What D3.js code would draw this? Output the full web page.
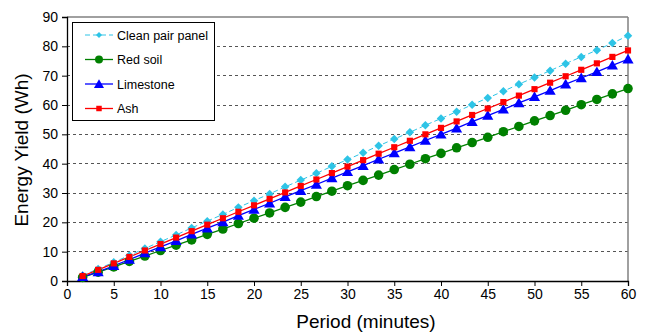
<!DOCTYPE html>
<html>
<head>
<meta charset="utf-8">
<script src="https://cdn.jsdelivr.net/npm/d3@7"></script>
<style>
  html, body { margin: 0; padding: 0; background: #fff; }
  svg { display: block; }
  text { font-family: "Liberation Sans", Arial, sans-serif; }
</style>
</head>
<body>
<svg id="chart" width="646" height="334"></svg>
<script>
const periods = [1.67,3.33,5,6.67,8.33,10,11.67,13.33,15,16.67,18.33,20,21.67,23.33,25,26.67,28.33,30,31.67,33.33,35,36.67,38.33,40,41.67,43.33,45,46.67,48.33,50,51.67,53.33,55,56.67,58.33,60];
const cleanPanel = [1.9,4.1,6.4,8.7,11.1,13.4,15.7,18.1,20.4,22.7,25.1,27.4,29.7,32.1,34.4,36.7,39.1,41.4,43.7,46.1,48.4,50.7,53.1,55.4,57.7,60.1,62.4,64.7,67.1,69.4,71.7,74.1,76.4,78.7,81.1,83.6];
const redSoil = [1.2,3.0,4.8,6.7,8.5,10.4,12.2,14.0,15.9,17.7,19.6,21.4,23.2,25.1,26.9,28.8,30.6,32.5,34.3,36.1,38.0,39.8,41.7,43.5,45.4,47.2,49.0,50.9,52.7,54.6,56.4,58.2,60.1,61.9,63.8,65.6];
const limestone = [1.4,3.1,5.2,7.3,9.5,11.6,13.7,15.9,18.0,20.1,22.3,24.4,26.5,28.7,30.8,32.9,35.1,37.2,39.3,41.5,43.6,45.7,47.9,50.0,52.1,54.3,56.4,58.5,60.7,62.8,64.9,67.1,69.2,71.3,73.5,75.6];
const ash = [1.7,3.8,6.0,8.2,10.4,12.6,14.8,17.0,19.2,21.4,23.6,25.8,28.0,30.2,32.4,34.6,36.8,39.0,41.2,43.4,45.6,47.8,50.0,52.2,54.4,56.6,58.8,61.0,63.2,65.4,67.6,69.8,72.0,74.2,76.4,78.6];
const xTicks = [0,5,10,15,20,25,30,35,40,45,50,55,60];
const yTicks = [0,10,20,30,40,50,60,70,80,90];
const seriesNames = ["Clean pair panel","Red soil","Limestone","Ash"];

const FONT = "'Liberation Sans', Arial, sans-serif";
const diamond = { draw(ctx, size) { const r = Math.sqrt(size) / 2; ctx.moveTo(0,-r); ctx.lineTo(r,0); ctx.lineTo(0,r); ctx.lineTo(-r,0); ctx.closePath(); } };

const series = [
  {name: seriesNames[0], values: cleanPanel, color: "#2ec4e6", dash: "5,3", symbol: diamond, size: 72, lsize: 36, lw: 1},
  {name: seriesNames[1], values: redSoil, color: "#008000", dash: null, symbol: d3.symbolCircle, size: 72, lsize: 50, lw: 1.3},
  {name: seriesNames[2], values: limestone, color: "#0000ff", dash: null, symbol: d3.symbolTriangle, size: 54, lsize: 44, lw: 1.3},
  {name: seriesNames[3], values: ash, color: "#ff0000", dash: null, symbol: d3.symbolSquare, size: 38, lsize: 30, lw: 1.3}
];

const svg = d3.select("#chart");
const L = 67, R = 628, T = 17, B = 281;
const x = d3.scaleLinear().domain([0,60]).range([L,R]);
const y = d3.scaleLinear().domain([0,90]).range([B,T]);

// gridlines
svg.append("g").selectAll("line").data(yTicks.filter(v => v > 0 && v < 90)).join("line")
  .attr("x1", L).attr("x2", R).attr("y1", d => y(d)).attr("y2", d => y(d))
  .attr("stroke", "#555").attr("stroke-width", 1).attr("stroke-dasharray", "3,3")
  .attr("shape-rendering", "crispEdges");

// frame top & right
svg.append("line").attr("x1", L).attr("x2", R).attr("y1", T).attr("y2", T)
  .attr("stroke", "#808080").attr("stroke-width", 1.5);
svg.append("line").attr("x1", R).attr("x2", R).attr("y1", T).attr("y2", B)
  .attr("stroke", "#808080").attr("stroke-width", 1.5);

// axes
const xAxis = svg.append("g").attr("transform", `translate(0,${B})`)
  .call(d3.axisBottom(x).tickValues(xTicks).tickSize(5).tickPadding(3).tickFormat(d3.format("d")));
const yAxis = svg.append("g").attr("transform", `translate(${L},0)`)
  .call(d3.axisLeft(y).tickValues(yTicks).tickSize(5).tickPadding(4).tickFormat(d3.format("d")));
[xAxis, yAxis].forEach(g => {
  g.attr("font-family", FONT).attr("font-size", 14);
  g.select(".domain").attr("stroke", "#000").attr("stroke-width", 1.3);
  g.selectAll(".tick line").attr("stroke", "#000");
  g.selectAll(".tick text").attr("font-size", 14).attr("fill", "#000").attr("font-family", FONT);
});

// lines and markers
const line = d3.line().x((d, i) => x(periods[i])).y(d => y(d));
series.forEach(s => {
  svg.append("path").datum(s.values)
    .attr("fill", "none").attr("stroke", s.color).attr("stroke-width", s.lw)
    .attr("stroke-dasharray", s.dash).attr("d", line);
});
series.forEach(s => {
  const sym = d3.symbol().type(s.symbol).size(s.size);
  svg.append("g").selectAll("path").data(s.values).join("path")
    .attr("transform", (d, i) => `translate(${x(periods[i])},${y(d) + (s.symbol === d3.symbolTriangle ? 1 : 0)})`)
    .attr("d", sym).attr("fill", s.color);
});

// axis titles
svg.append("text").attr("x", 366).attr("y", 328).attr("text-anchor", "middle")
  .attr("font-family", FONT).attr("font-size", 19).text("Period (minutes)");
svg.append("text").attr("transform", `translate(28,150) rotate(-90)`)
  .attr("text-anchor", "middle").attr("font-family", FONT).attr("font-size", 19).text("Energy Yield (Wh)");

// legend
const lg = svg.append("g");
lg.append("rect").attr("x", 72.5).attr("y", 22.5).attr("width", 142).attr("height", 98)
  .attr("fill", "#fff").attr("stroke", "#000").attr("stroke-width", 1);
series.forEach((s, i) => {
  const cy = 35 + i * 24.5;
  lg.append("line").attr("x1", 85).attr("x2", 113).attr("y1", cy).attr("y2", cy)
    .attr("stroke", s.color).attr("stroke-width", s.lw).attr("stroke-dasharray", s.dash);
  lg.append("path").attr("transform", `translate(99,${cy + (s.symbol === d3.symbolTriangle ? 1 : 0)})`)
    .attr("d", d3.symbol().type(s.symbol).size(s.lsize)()).attr("fill", s.color);
  lg.append("text").attr("x", 117).attr("y", cy + 4.5).attr("font-family", FONT)
    .attr("font-size", 12.5).text(s.name);
});
</script>
</body>
</html>
